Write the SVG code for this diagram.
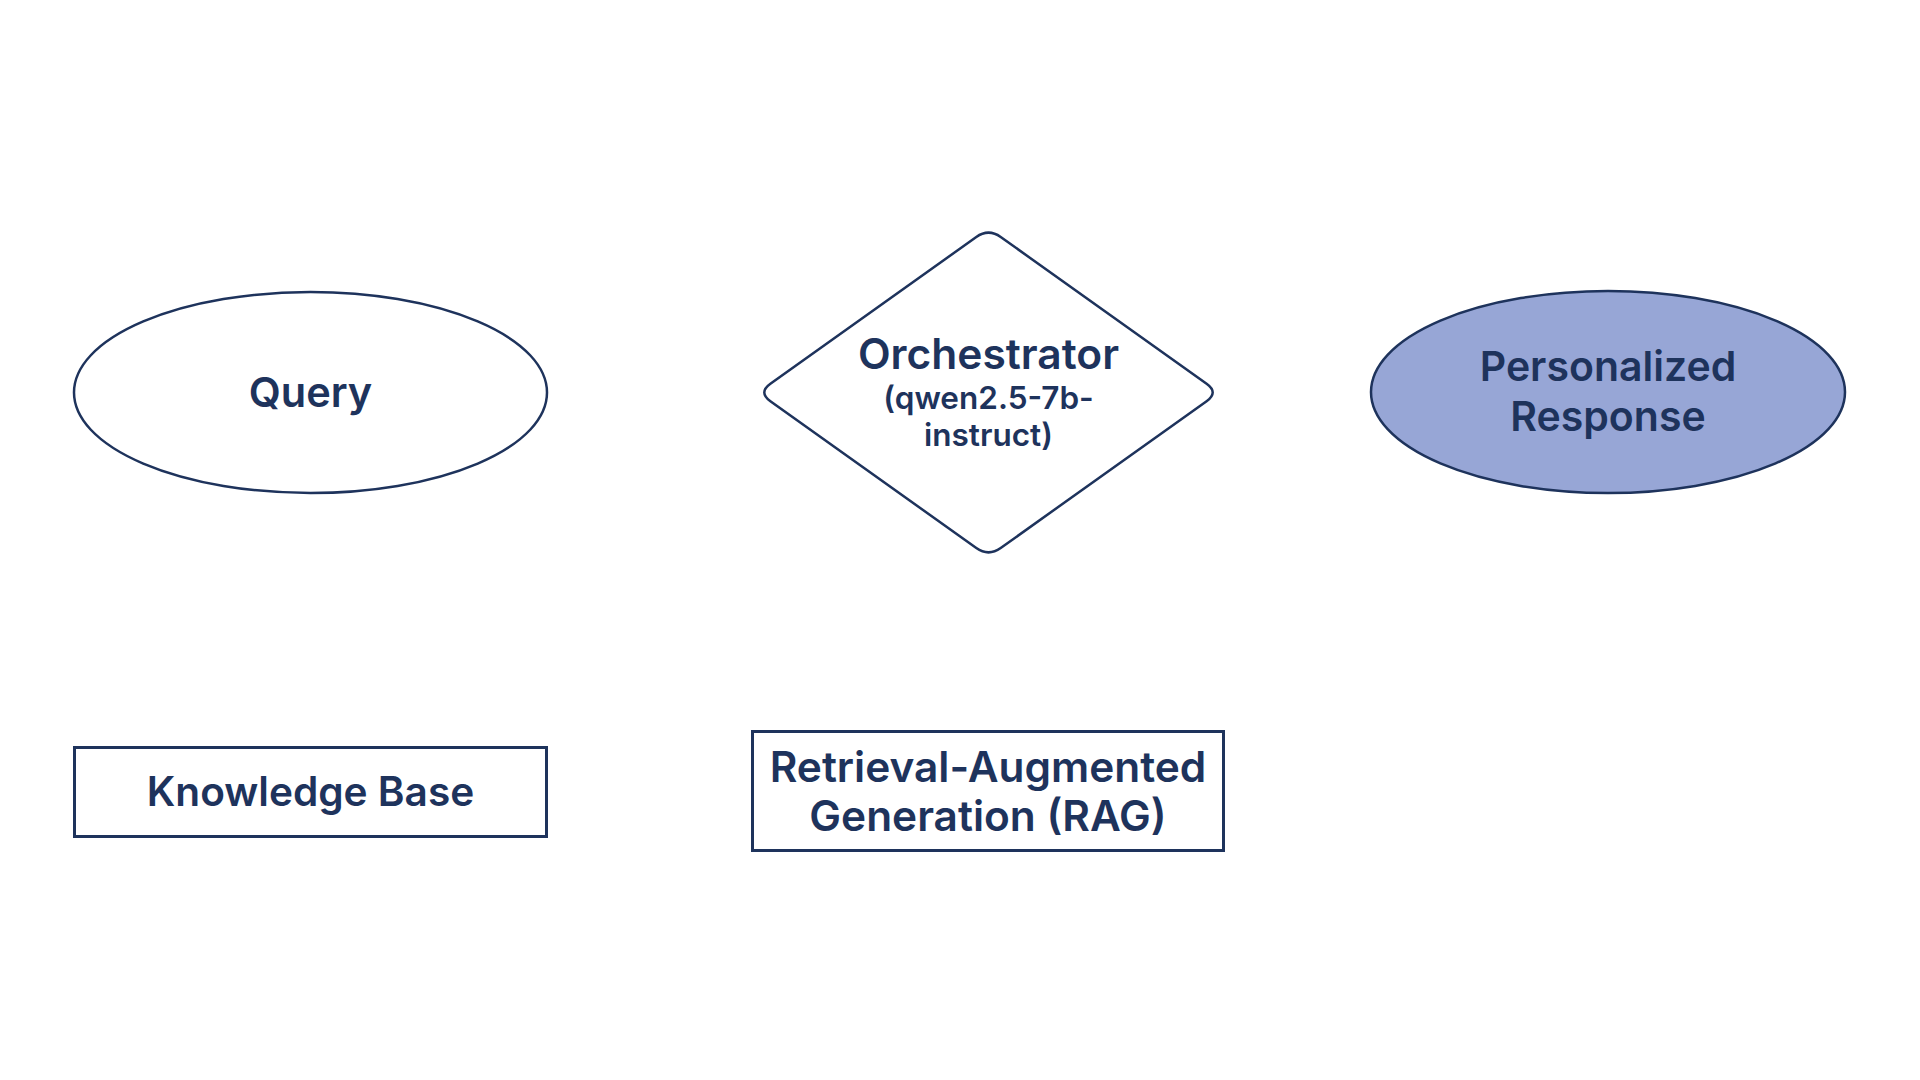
<svg xmlns="http://www.w3.org/2000/svg" width="1920" height="1080" viewBox="0 0 1920 1080">
<style>
.shape{fill:#ffffff;stroke:#1E335C;stroke-width:2.5}
.fill{fill:#97A6D6}
.rect{stroke-width:3}
text{font-family:"Inter","Liberation Sans",sans-serif;font-weight:600;fill:#1E335C;text-anchor:middle}
.big{font-size:41px}
.small{font-size:31.5px}
</style>
<rect width="1920" height="1080" fill="#ffffff"/>
<g id="connectors"></g>
<g id="query">
<ellipse class="shape" cx="310.5" cy="392.5" rx="236.5" ry="100.5"/>
<text class="big" x="310.5" y="407" style="font-size:41.5px">Query</text>
</g>
<g id="orchestrator">
<path class="shape" d="M976.3,237 Q988.5,228.3 1000.7,237 L1206.6,383.8 Q1218.8,392.5 1206.6,401.2 L1000.7,548 Q988.5,556.7 976.3,548 L770.4,401.2 Q758.2,392.5 770.4,383.8 Z"/>
<text class="big" x="988.5" y="369" style="font-size:42.5px">Orchestrator</text>
<text class="small" x="988.5" y="409">(qwen2.5-7b-</text>
<text class="small" x="988.5" y="446">instruct)</text>
</g>
<g id="response">
<ellipse class="shape fill" cx="1608" cy="392" rx="237" ry="101"/>
<text class="big" x="1608" y="381">Personalized</text>
<text class="big" x="1608" y="431">Response</text>
</g>
<g id="knowledge-base">
<rect class="shape rect" x="74.5" y="747.5" width="472" height="89"/>
<text class="big" x="310.5" y="806" style="font-size:40.6px">Knowledge Base</text>
</g>
<g id="rag">
<rect class="shape rect" x="752.5" y="731.5" width="471" height="119"/>
<text class="big" x="988" y="782" style="font-size:42.4px">Retrieval-Augmented</text>
<text class="big" x="988" y="831" style="font-size:42.4px">Generation (RAG)</text>
</g>
</svg>
